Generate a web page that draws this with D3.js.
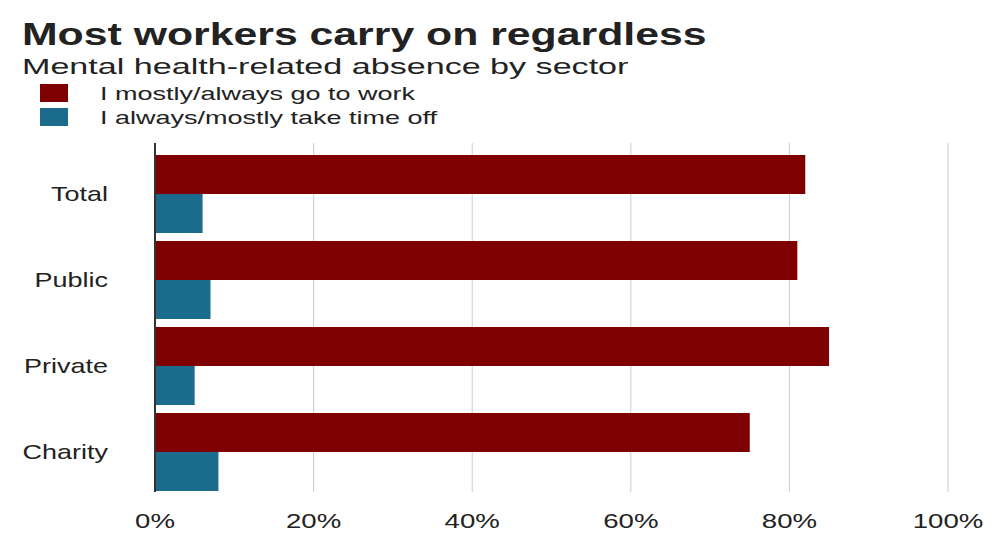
<!DOCTYPE html>
<html>
<head>
<meta charset="utf-8" />
<style>
  body { margin: 0; background: white; font-family: "Liberation Sans", Arial, sans-serif; }
</style>
<script src="https://d3js.org/d3.v7.min.js"></script>
</head>
<body>
<script>
  var categories = ["Total", "Public", "Private", "Charity"];
  var seriesNames = ["I mostly/always go to work", "I always/mostly take time off"];
  var goToWork = [82, 81, 85, 75];
  var takeTimeOff = [6, 7, 5, 8];
  var ticks = [0, 20, 40, 60, 80, 100];
  var colors = ["#7f0000", "#1b6b8c"];

  var width = 1003, height = 558;
  var svg = d3.select("body").append("svg").attr("width", width).attr("height", height);

  // reference type is horizontally stretched; draw text at (x,y) scaled by sx
  function label(px, py, sx, size, txt, anchor, weight) {
    return svg.append("text")
      .attr("transform", "translate(" + px + "," + py + ") scale(" + sx + ",1)")
      .attr("font-size", size).attr("fill", "#222")
      .attr("text-anchor", anchor || "start").attr("font-weight", weight || "normal")
      .text(txt);
  }

  var x = d3.scaleLinear().domain([0, 100]).range([155, 948]);
  var y = d3.scaleBand().domain(categories).range([155, 491]).paddingInner(8 / 86).paddingOuter(0);
  var sub = d3.scaleBand().domain([0, 1]).range([0, y.bandwidth()]);

  label(22, 45, 1.38, 31, "Most workers carry on regardless", "start", "bold");
  label(22, 74, 1.55, 22, "Mental health-related absence by sector");

  seriesNames.forEach(function (name, i) {
    svg.append("rect").attr("x", 40).attr("y", 84 + i * 24).attr("width", 28).attr("height", 18).attr("fill", colors[i]);
    label(100, 100 + i * 24, 1.5, 18, name);
  });

  svg.selectAll(".grid").data(ticks.slice(1)).enter().append("line")
    .attr("x1", d => x(d)).attr("x2", d => x(d)).attr("y1", 143).attr("y2", 492)
    .attr("stroke", "#ccc").attr("stroke-width", 1);

  var series = [goToWork, takeTimeOff];
  series.forEach(function (vals, s) {
    svg.selectAll(".bar" + s).data(categories).enter().append("rect")
      .attr("x", x(0)).attr("y", d => y(d) + sub(s))
      .attr("width", (d, i) => x(vals[i]) - x(0)).attr("height", sub.bandwidth())
      .attr("fill", colors[s]);
  });

  svg.append("line").attr("x1", x(0)).attr("x2", x(0)).attr("y1", 143).attr("y2", 492)
    .attr("stroke", "#333").attr("stroke-width", 2);

  categories.forEach(function (c) {
    label(108, y(c) + y.bandwidth() / 2 + 7, 1.35, 20, c, "end");
  });

  ticks.forEach(function (t) {
    label(x(t), 528, 1.38, 20, t + "%", "middle");
  });
</script>
</body>
</html>
